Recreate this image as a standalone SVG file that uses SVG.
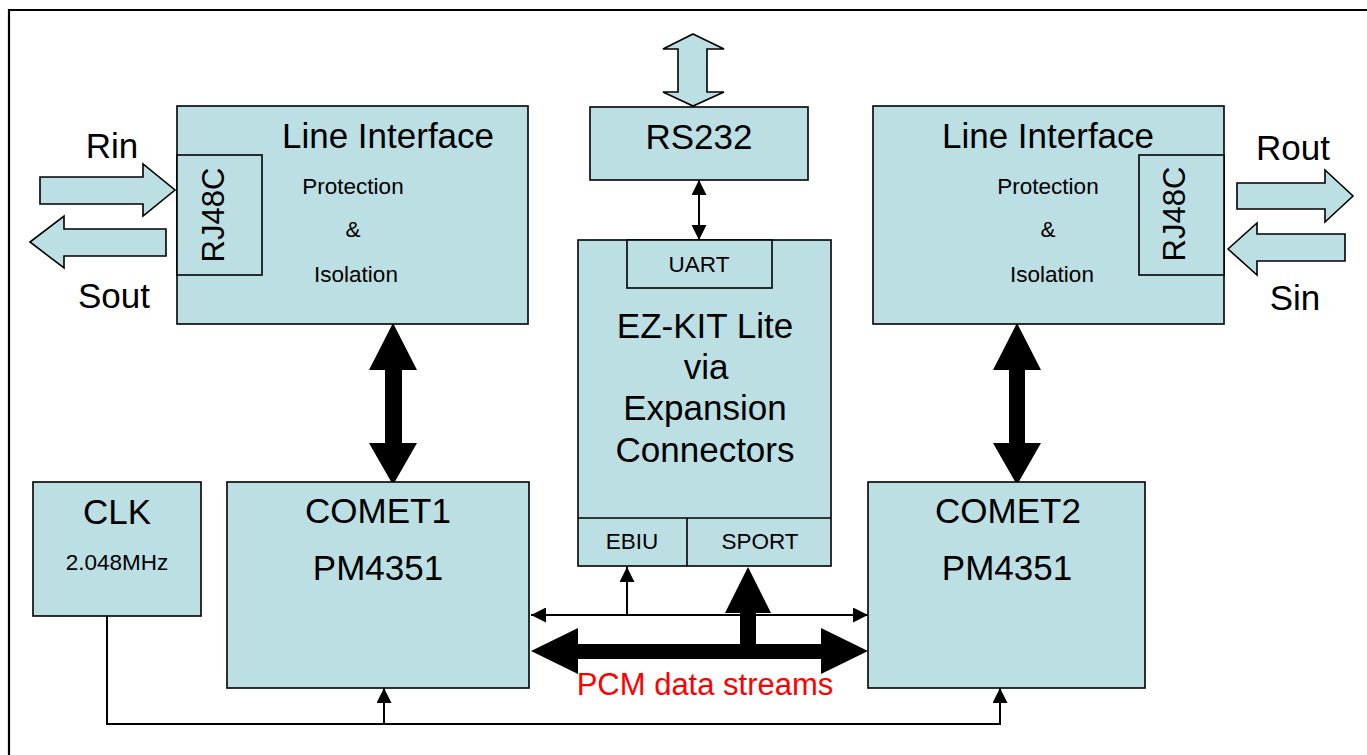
<svg xmlns="http://www.w3.org/2000/svg" width="1367" height="755" viewBox="0 0 1367 755">
<style>
.box{fill:#BCDFE3;stroke:#000;stroke-width:1.6}
.blk{fill:#BCDFE3;stroke:#000;stroke-width:1.6;stroke-linejoin:miter}
.t{font-family:"Liberation Sans",Arial,sans-serif;fill:#000;text-anchor:middle}
.L{font-size:35px}
.S{font-size:22.5px}
.thin{fill:none;stroke:#000;stroke-width:2}
.thick{fill:#000;stroke:none}
</style>
<defs>
<marker id="ah" markerUnits="userSpaceOnUse" markerWidth="15" markerHeight="15" refX="15" refY="7.5" orient="auto-start-reverse">
<path d="M0,0 L15,7.5 L0,15 z" fill="#000"/>
</marker>
</defs>
<rect width="1367" height="755" fill="#fff"/>
<path d="M9,755 V10 H1367" fill="none" stroke="#000" stroke-width="2.2"/>

<g id="connectors">
<polygon class="thick" points="393,323 417,370 402,370 402,443 417,443 393,485 369,443 385,443 385,370 369,370"/>
<polygon class="thick" points="1017,323 1041,370 1025,370 1025,443 1041,443 1017,485 993,443 1009,443 1009,370 993,370"/>
<polygon class="thick" points="531,651 578,628 578,644 740,644 740,613 725,613 748,567 771,613 756,613 756,644 821,644 821,628 868,651 821,674 821,659 578,659 578,674"/>
<line class="thin" x1="531" y1="615" x2="868" y2="615" marker-start="url(#ah)" marker-end="url(#ah)"/>
<line class="thin" x1="627" y1="615" x2="627" y2="567" marker-end="url(#ah)"/>
<line class="thin" x1="699" y1="180" x2="699" y2="240" marker-start="url(#ah)" marker-end="url(#ah)"/>
<path class="thin" d="M107,616 V724 H1000 V688" marker-end="url(#ah)"/>
<line class="thin" x1="384" y1="724" x2="384" y2="688" marker-end="url(#ah)"/>
<polygon class="blk" points="693,34 724,49 707,49 707,92 724,92 693,106 663,92 678,92 678,49 663,49"/>
<polygon class="blk" points="40,177 143,177 143,164 175,190 143,216 143,204 40,204"/>
<polygon class="blk" points="30,242 64,216 64,229 166,229 166,256 64,256 64,268"/>
<polygon class="blk" points="1237,183 1325,183 1325,170 1353,196 1325,222 1325,209 1237,209"/>
<polygon class="blk" points="1228,249 1257,223 1257,234 1345,234 1345,261 1257,261 1257,275"/>
</g>

<g id="labels">
<text class="t L" x="112" y="158">Rin</text>
<text class="t L" x="114" y="308">Sout</text>
<text class="t L" x="1293" y="160">Rout</text>
<text class="t L" x="1295" y="310">Sin</text>
<text class="t" x="705" y="695" font-size="31" fill="#FF0000" style="fill:#FF0000">PCM data streams</text>
</g>

<g id="lineif1">
<rect class="box" x="177" y="106" width="351" height="218"/>
<rect class="box" x="177" y="155" width="85" height="120"/>
<text class="t L" x="388" y="148">Line Interface</text>
<text class="t S" x="353" y="194">Protection</text>
<text class="t S" x="353" y="237">&amp;</text>
<text class="t S" x="356" y="282">Isolation</text>
<text class="t" font-size="31" transform="translate(224,215) rotate(-90)">RJ48C</text>
</g>

<g id="lineif2">
<rect class="box" x="873" y="106" width="351" height="218"/>
<rect class="box" x="1139" y="155" width="85" height="120"/>
<text class="t L" x="1048" y="148">Line Interface</text>
<text class="t S" x="1048" y="194">Protection</text>
<text class="t S" x="1048" y="237">&amp;</text>
<text class="t S" x="1052" y="282">Isolation</text>
<text class="t" font-size="31" transform="translate(1185,214) rotate(-90)">RJ48C</text>
</g>

<g id="rs232">
<rect class="box" x="590" y="107" width="218" height="73"/>
<text class="t L" x="699" y="149">RS232</text>
</g>

<g id="ezkit">
<rect class="box" x="578" y="240" width="253" height="326"/>
<rect class="box" x="627" y="240" width="145" height="48"/>
<text class="t S" x="699" y="272">UART</text>
<text class="t L" x="705" y="338">EZ-KIT Lite</text>
<text class="t L" x="706" y="379">via</text>
<text class="t L" x="705" y="420">Expansion</text>
<text class="t L" x="705" y="462">Connectors</text>
<path d="M578,518 H831 M687,518 V566" fill="none" stroke="#000" stroke-width="1.6"/>
<text class="t S" x="632" y="549">EBIU</text>
<text class="t S" x="760" y="549">SPORT</text>
</g>

<g id="clk">
<rect class="box" x="33" y="482" width="168" height="134"/>
<text class="t L" x="117" y="524">CLK</text>
<text class="t S" x="117" y="570">2.048MHz</text>
</g>

<g id="comet1">
<rect class="box" x="227" y="482" width="302" height="206"/>
<text class="t L" x="378" y="523">COMET1</text>
<text class="t L" x="378" y="580">PM4351</text>
</g>

<g id="comet2">
<rect class="box" x="868" y="482" width="277" height="206"/>
<text class="t L" x="1008" y="523">COMET2</text>
<text class="t L" x="1007" y="580">PM4351</text>
</g>
</svg>
